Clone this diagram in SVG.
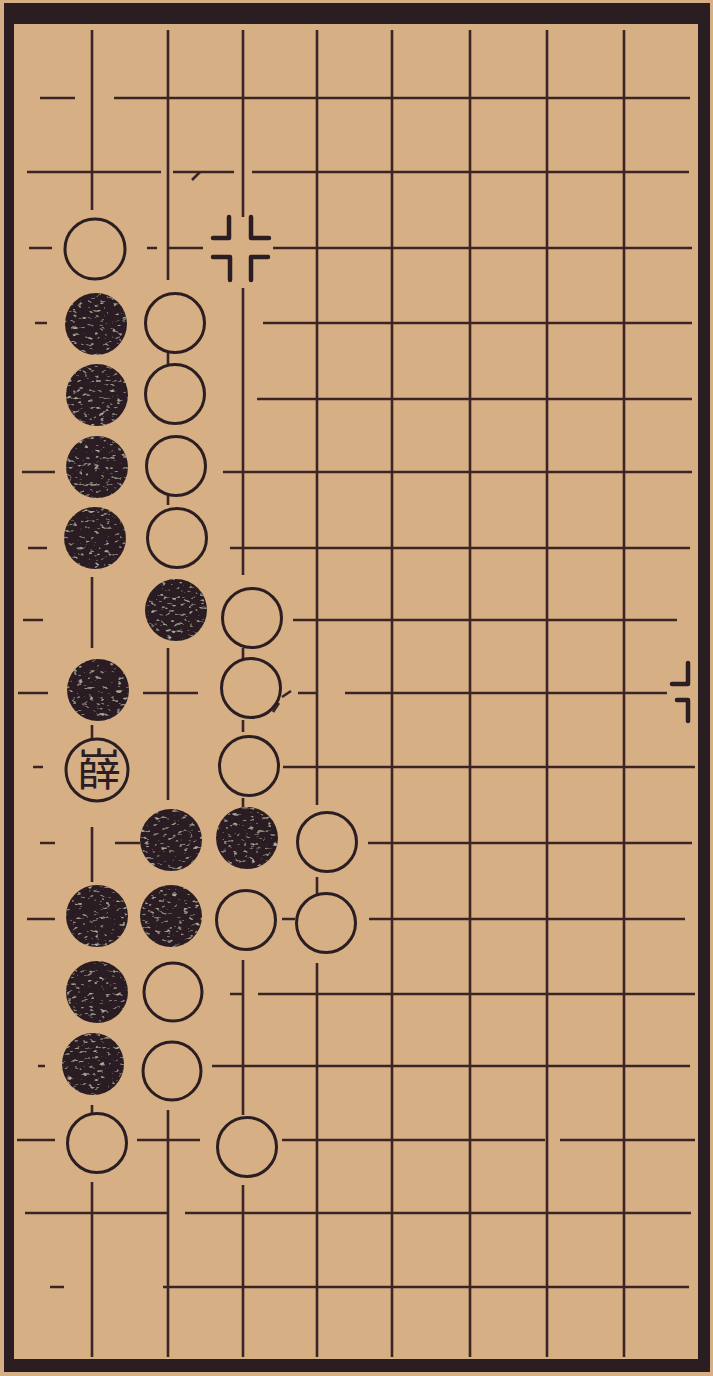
<svg xmlns="http://www.w3.org/2000/svg" width="713" height="1376" viewBox="0 0 713 1376">
<style>
.bg{fill:#d6af85}
.frame{fill:#2b1e22;fill-rule:evenodd}
.ln{fill:none;stroke:#3a2426;stroke-width:2.6;stroke-linecap:butt}
.mk{fill:none;stroke:#2b1e22;stroke-width:4.5;stroke-linecap:round;stroke-linejoin:round}
.w{fill:#d6af85;stroke:#2b1e22;stroke-width:3}
.b{fill:#2a1f22;filter:url(#tex)}
.lbl{font-family:"Noto Sans CJK TC","Noto Sans CJK SC",sans-serif;font-size:44px;fill:#2b1e22;text-anchor:middle}
</style>
<defs>
<filter id="tex" x="0" y="0" width="1" height="1">
<feTurbulence type="fractalNoise" baseFrequency="0.18 0.3" numOctaves="2" seed="5" result="n"/>
<feColorMatrix in="n" type="matrix" values="0 0 0 0 0.42  0 0 0 0 0.42  0 0 0 0 0.34  5 0 0 0 -3.1" result="spk"/>
<feComposite in="spk" in2="SourceGraphic" operator="in" result="s"/>
<feMerge><feMergeNode in="SourceGraphic"/><feMergeNode in="s"/></feMerge>
</filter>
</defs>
<rect class="bg" x="0" y="0" width="713" height="1376"/>
<g id="frame">
<path class="frame" d="M4 3 H710 V1372 H4 Z M14 24 V1359 H698 V24 Z"/>
</g>
<g id="grid">
<path class="ln" d="
M40 98 H75 M114 98 H690
M27 172 H161 M173 172 H234 M252 172 H689
M29 248 H52 M147 248 H157 M167 248 H203 M273 248 H692
M35 323 H47 M263 323 H692
M257 399 H692
M22 472 H55 M223 472 H692
M28 548 H47 M230 548 H690
M23 620 H43 M293 620 H677
M18 693 H48 M143 693 H198 M298 693 H317 M345 693 H667
M33 767 H43 M283 767 H695
M40 843 H55 M115 843 H140 M368 843 H692
M27 919 H55 M282 919 H295 M369 919 H685
M230 994 H243 M258 994 H695
M38 1066 H45 M212 1066 H690
M17 1140 H55 M137 1140 H200 M282 1140 H545 M560 1140 H695
M25 1213 H167 M185 1213 H691
M50 1287 H64 M163 1287 H689
M92 30 V210 M92 577 V648 M92 725 V738 M92 827 V882 M92 1105 V1115 M92 1182 V1357
M168 30 V280 M168 353 V365 M168 493 V505 M168 648 V800 M168 1110 V1357
M243 30 V217 M243 288 V575 M243 648 V660 M243 720 V732 M243 798 V808 M243 960 V1115 M243 1185 V1357
M317 30 V805 M317 877 V895 M317 963 V1357
M392 30 V1357 M470 30 V1357 M547 30 V1357 M624 30 V1357"/>
<path class="ln" d="M200 172 L192 180 M291 691 L282 697 M279 703 L273 712" stroke-width="2"/>
</g>
<g id="star-marker">
<path class="mk" d="M229 217 V238 H213 M251 217 V238 H269 M213 257 H230 V280 M268 257 H251 V280"/>
</g>
<g id="edge-marker">
<path class="mk" d="M688 663 V684 H672 M677 700 H688 V721"/>
</g>
<g id="w1"><circle class="w" cx="95" cy="249" r="30"/></g>
<g id="b1"><circle class="b" cx="96" cy="324" r="31"/></g>
<g id="w2"><circle class="w" cx="175" cy="323" r="29.5"/></g>
<g id="b2"><circle class="b" cx="97" cy="395" r="31"/></g>
<g id="w3"><circle class="w" cx="175" cy="394" r="29.5"/></g>
<g id="b3"><circle class="b" cx="97" cy="467" r="31"/></g>
<g id="w4"><circle class="w" cx="176" cy="466" r="29.5"/></g>
<g id="b4"><circle class="b" cx="95" cy="538" r="31"/></g>
<g id="w5"><circle class="w" cx="177" cy="538" r="29.5"/></g>
<g id="b5"><circle class="b" cx="176" cy="610" r="31"/></g>
<g id="w6"><circle class="w" cx="252" cy="618" r="29.5"/></g>
<g id="b6"><circle class="b" cx="98" cy="690" r="31"/></g>
<g id="w7"><circle class="w" cx="251" cy="688" r="29.5"/></g>
<g id="label-stone"><circle class="w" cx="97" cy="770" r="31"/><text class="lbl" x="99" y="786">嶭</text></g>
<g id="w8"><circle class="w" cx="249" cy="766" r="29.5"/></g>
<g id="b7"><circle class="b" cx="171" cy="840" r="31"/></g>
<g id="b8"><circle class="b" cx="247" cy="838" r="31"/></g>
<g id="w9"><circle class="w" cx="327" cy="842" r="29.5"/></g>
<g id="b9"><circle class="b" cx="97" cy="916" r="31"/></g>
<g id="b10"><circle class="b" cx="171" cy="916" r="31"/></g>
<g id="w10"><circle class="w" cx="246" cy="920" r="29.5"/></g>
<g id="w11"><circle class="w" cx="326" cy="923" r="29.5"/></g>
<g id="b11"><circle class="b" cx="97" cy="992" r="31"/></g>
<g id="w12"><circle class="w" cx="173" cy="992" r="29"/></g>
<g id="b12"><circle class="b" cx="93" cy="1064" r="31"/></g>
<g id="w13"><circle class="w" cx="172" cy="1071" r="29"/></g>
<g id="w14"><circle class="w" cx="97" cy="1143" r="29.5"/></g>
<g id="w15"><circle class="w" cx="247" cy="1147" r="29.5"/></g>
</svg>
